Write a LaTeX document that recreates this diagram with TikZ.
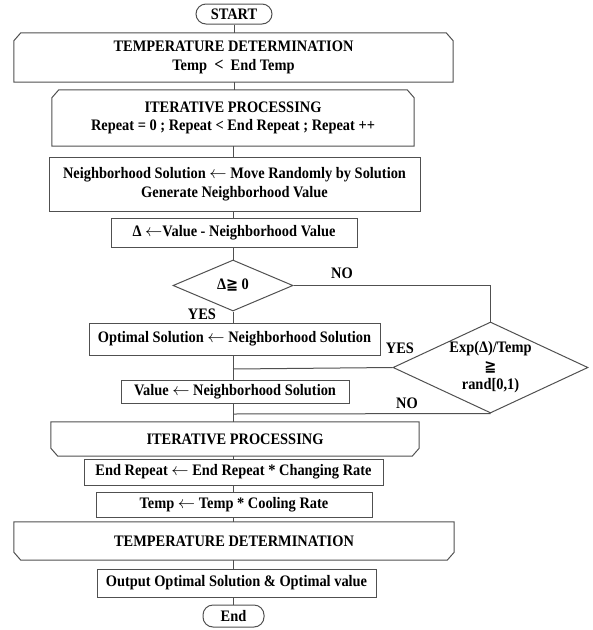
\documentclass[tikz,border=0pt]{standalone}
\usepackage{fontspec}
\setmainfont{Liberation Serif}[FakeStretch=0.9]
\newfontfamily\symfont{DejaVu Sans}[FakeStretch=0.9]
\usetikzlibrary{shapes.geometric,calc}
\definecolor{linecol}{HTML}{505050}
\newcommand{\larr}{$\leftarrow$}
\begin{document}
\begin{tikzpicture}[x=1pt,y=-1pt,
  font=\bfseries\fontsize{16}{18.5}\selectfont,
  ln/.style={draw=linecol, line width=1pt},
  box/.style={ln, rectangle, inner sep=0pt, align=center},
  cbox/.style={rectangle, inner sep=0pt, align=center},
  oval/.style={ln, rectangle, rounded corners=10pt, inner sep=0pt},
  dia/.style={ln, diamond, inner sep=0pt},
  dtext/.style={inner sep=0pt, align=center},
  lbl/.style={inner sep=0pt}
]
\useasboundingbox (0,0) rectangle (593,630);

\node[oval, minimum width=76, minimum height=20] (start) at (234,14) {START};

\node[cbox, minimum width=439, minimum height=49] (t1) at (233.5,57.5)
  {TEMPERATURE DETERMINATION\\Temp~~{\fontsize{18}{18}\selectfont <}~~End Temp};
\draw[ln] (t1.south west) -- ($(t1.north west)+(0,8)$) -- ($(t1.north west)+(7,0)$)
  -- ($(t1.north east)+(-7,0)$) -- ($(t1.north east)+(0,8)$) -- (t1.south east) -- cycle;

\node[cbox, minimum width=362, minimum height=56] (i1) at (233,118)
  {ITERATIVE PROCESSING\\Repeat = 0 ; Repeat < End Repeat ; Repeat ++};
\draw[ln] (i1.south west) -- ($(i1.north west)+(0,8)$) -- ($(i1.north west)+(7,0)$)
  -- ($(i1.north east)+(-7,0)$) -- ($(i1.north east)+(0,8)$) -- (i1.south east) -- cycle;

\node[box, minimum width=371, minimum height=54] (nb) at (234.5,184)
  {Neighborhood Solution \larr\ Move Randomly by Solution\\Generate Neighborhood Value};

\node[box, minimum width=246, minimum height=29] (dl) at (234,232.5)
  {Δ \larr Value - Neighborhood Value};

\node[dia, minimum width=120, minimum height=51] (d1) at (233,285.5) {};
\node[dtext] (d1t) at (d1.center) {Δ{\symfont ≧} 0};

\node[box, minimum width=291, minimum height=32] (opt) at (234.5,339)
  {Optimal Solution \larr\ Neighborhood Solution};

\node[dia, minimum width=195, minimum height=91] (d2) at (490.5,367.5) {};
\node[dtext] (d2t) at (d2.center) {Exp(Δ)/Temp\\{\symfont ≧}\\rand[0,1)};

\node[box, minimum width=228, minimum height=23] (val) at (235,391.5)
  {Value \larr\ Neighborhood Solution};

\node[cbox, minimum width=368, minimum height=34] (i2) at (235,439)
  {ITERATIVE PROCESSING};
\draw[ln] (i2.north west) -- ($(i2.south west)+(0,-8)$) -- ($(i2.south west)+(7,0)$)
  -- ($(i2.south east)+(-7,0)$) -- ($(i2.south east)+(0,-8)$) -- (i2.north east) -- cycle;

\node[box, minimum width=299, minimum height=26] (er) at (233.5,472)
  {End Repeat \larr\ End Repeat * Changing Rate};

\node[box, minimum width=276, minimum height=25] (tc) at (234,504.5)
  {Temp \larr\ Temp * Cooling Rate};

\node[cbox, minimum width=440, minimum height=38] (t2) at (234,541)
  {TEMPERATURE DETERMINATION};
\draw[ln] (t2.north west) -- ($(t2.south west)+(0,-8)$) -- ($(t2.south west)+(7,0)$)
  -- ($(t2.south east)+(-7,0)$) -- ($(t2.south east)+(0,-8)$) -- (t2.north east) -- cycle;

\node[box, minimum width=279, minimum height=28] (out) at (236.5,583)
  {Output Optimal Solution \& Optimal value};

\node[oval, minimum width=61, minimum height=22] (end) at (233.5,616) {End};

% main vertical connectors
\draw[ln] (start.south) -- (start.south |- t1.north);
\draw[ln] (t1.south -| start.south) -- (start.south |- i1.north);
\draw[ln] (i1.south) -- (i1.south |- nb.north);
\draw[ln] (nb.south -| d1.north) -- (d1.north |- dl.north);
\draw[ln] (dl.south -| d1.north) -- (d1.north);
\draw[ln] (d1.south) -- (d1.south |- opt.north);
\draw[ln] (opt.south -| d1.south) -- (d1.south |- val.north);
\draw[ln] (val.south -| d1.south) -- (d1.south |- i2.north);
\draw[ln] (i2.south -| d1.south) -- (d1.south |- er.north);
\draw[ln] (er.south -| d1.south) -- (d1.south |- tc.north);
\draw[ln] (tc.south -| d1.south) -- (d1.south |- t2.north);
\draw[ln] (t2.south -| d1.south) -- (d1.south |- out.north);
\draw[ln] (out.south -| d1.south) -- (d1.south |- end.north);

% decision branches
\coordinate (yj) at (233,369);
\coordinate (nj) at (233,414);
\draw[ln] (d1.east) -| (d2.north);
\draw[ln] (d2.west) -- (yj);
\draw[ln] (d2.south) -- (nj);

% labels
\node[lbl] (no1) at (342,273) {NO};
\node[lbl] (yes1) at (202,314) {YES};
\node[lbl] (yes2) at (400,348) {YES};
\node[lbl] (no2) at (407,403) {NO};
\end{tikzpicture}
\end{document}
